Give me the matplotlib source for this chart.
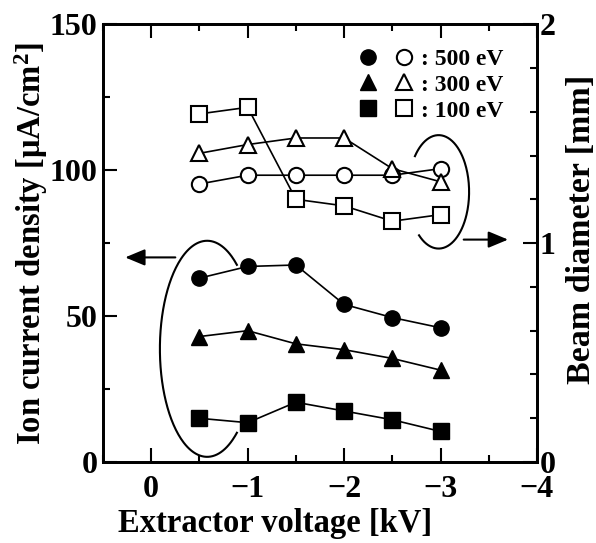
import numpy as np
import matplotlib
matplotlib.use('Agg')
import matplotlib.pyplot as plt
from matplotlib.lines import Line2D
from matplotlib.legend_handler import HandlerTuple
from matplotlib.ticker import MultipleLocator

plt.rcParams['font.family'] = ['Liberation Serif', 'DejaVu Serif']
plt.rcParams['font.weight'] = 'bold'
plt.rcParams['axes.labelweight'] = 'bold'
plt.rcParams['mathtext.fontset'] = 'custom'
plt.rcParams['mathtext.rm'] = 'Liberation Serif:bold'
plt.rcParams['mathtext.bf'] = 'Liberation Serif:bold'
plt.rcParams['mathtext.it'] = 'Liberation Serif:bold:italic'

# extractor voltage [kV]
voltage = [-0.5, -1.0, -1.5, -2.0, -2.5, -3.0]

# ion current density [uA/cm2] (filled markers, left axis)
current_500 = [63, 67, 67.5, 54, 49.5, 46]
current_300 = [43, 45, 40.5, 38.5, 35.5, 31.5]
current_100 = [15, 13.5, 20.5, 17.5, 14.5, 10.5]

# beam diameter [mm] (open markers, right axis)
diam_500 = [1.27, 1.31, 1.31, 1.31, 1.31, 1.34]
diam_300 = [1.41, 1.45, 1.48, 1.48, 1.34, 1.28]
diam_100 = [1.59, 1.62, 1.20, 1.17, 1.10, 1.13]

labels = [': 500 eV', ': 300 eV', ': 100 eV']
markers = ['o', '^', 's']

fig = plt.figure(figsize=(5.96, 5.43), dpi=100)
ax = fig.add_axes([0.1728, 0.149, 0.7282, 0.8066])
ax2 = ax.twinx()

ms = 11
for y, m in zip([current_500, current_300, current_100], markers):
    ax.plot(voltage, y, color='k', lw=1.2, marker=m, ms=ms, mfc='k', mec='k')
for y, m in zip([diam_500, diam_300, diam_100], markers):
    ax2.plot(voltage, y, color='k', lw=1.2, marker=m, ms=ms, mfc='white', mec='k', mew=1.5)

# axes limits and ticks
ax.set_xlim(0.5, -4)
ax.set_ylim(0, 150)
ax2.set_ylim(0, 2)
ax.xaxis.set_major_locator(MultipleLocator(1))
ax.xaxis.set_minor_locator(MultipleLocator(0.5))
ax.yaxis.set_major_locator(MultipleLocator(50))
ax.yaxis.set_minor_locator(MultipleLocator(25))
ax2.yaxis.set_major_locator(MultipleLocator(1))
ax2.yaxis.set_minor_locator(MultipleLocator(0.2))

ax.tick_params(which='both', direction='in', top=True, right=False, width=1.5, labelsize=23)
ax.tick_params(which='major', length=10)
ax.tick_params(which='minor', length=5)
ax.tick_params(axis='x', pad=9)
ax.tick_params(axis='y', pad=4)
ax2.tick_params(which='both', direction='in', width=1.5, labelsize=23, pad=2)
ax2.tick_params(which='major', length=10)
ax2.tick_params(which='minor', length=5)

for a in (ax, ax2):
    for s in a.spines.values():
        s.set_linewidth(2)

ax.set_xlabel('Extractor voltage [kV]', fontsize=23.5)
ax.set_ylabel('Ion current density [μA/cm$^{2}$]', fontsize=23.5)
ax2.set_ylabel('Beam diameter [mm]', fontsize=24.5)
ax.xaxis.set_label_coords(0.396, -0.105)
ax.yaxis.set_label_coords(-0.122, 0.5)
ax2.yaxis.set_label_coords(1.066, 0.532)

# legend: filled and open symbol pairs
handles = []
for m in markers:
    f = Line2D([], [], ls='none', marker=m, ms=ms, mfc='k', mec='k')
    o = Line2D([], [], ls='none', marker=m, ms=ms, mfc='white', mec='k', mew=1.5)
    handles.append((f, o))
ax.legend(handles, labels, handler_map={tuple: HandlerTuple(ndivide=None, pad=0.7)},
          loc='upper right', bbox_to_anchor=(0.945, 0.966), frameon=False,
          fontsize=17, handlelength=2.3, handletextpad=0.35, labelspacing=0.18,
          borderaxespad=0)

# ellipses grouping the series, with arrows pointing to their axis
# (x axis is inverted, so the horizontal term is subtracted)
t = np.radians(np.linspace(51, 309, 200))
ax.plot(-0.58 - 0.49 * np.cos(t), 38.8 + 37 * np.sin(t), color='k', lw=1.5, clip_on=False)
t = np.radians(np.linspace(-130, 141, 200))
ax2.plot(-2.98 - 0.316 * np.cos(t), 1.234 + 0.259 * np.sin(t), color='k', lw=1.5, clip_on=False)

head = '-|>,head_length=1.2,head_width=0.5'
ax.annotate('', xy=(0.27, 70.1), xytext=(-0.25, 70.1),
            arrowprops=dict(arrowstyle=head, lw=1.5, color='k', shrinkA=0, shrinkB=0))
ax2.annotate('', xy=(-3.70, 1.016), xytext=(-3.24, 1.016),
             arrowprops=dict(arrowstyle=head, lw=1.5, color='k', shrinkA=0, shrinkB=0))

fig.savefig('out.png', dpi=100)
